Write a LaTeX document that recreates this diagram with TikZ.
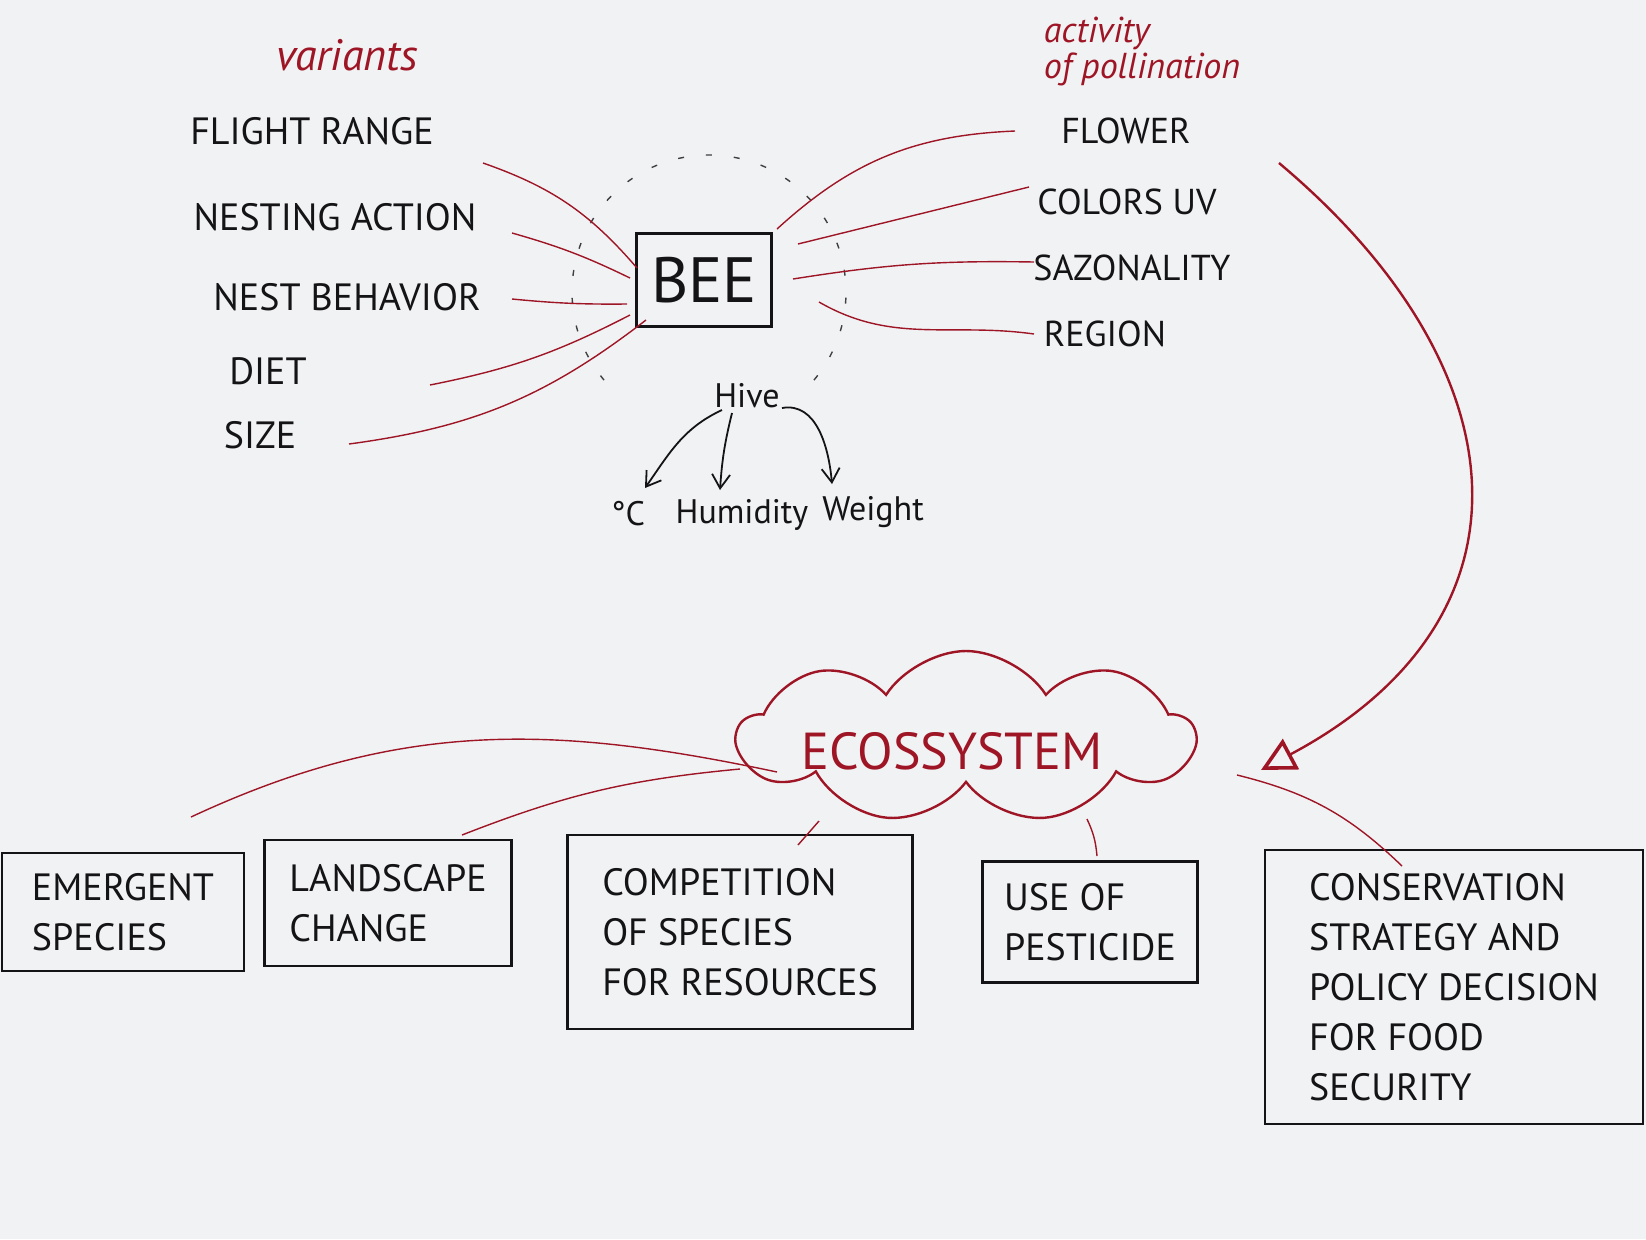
\documentclass[tikz,border=0pt]{standalone}
\usepackage{fontspec}
\setmainfont{PT Sans}
\usetikzlibrary{shapes.symbols,arrows.meta,calc}
\definecolor{penred}{RGB}{158,22,38}
\definecolor{ink}{RGB}{20,20,22}
\definecolor{paper}{RGB}{241,242,244}
\begin{document}
\begin{tikzpicture}[x=0.5pt,y=0.5pt,
  lbl/.style={text=ink, font=\fontsize{19}{22}\selectfont, inner sep=1pt},
  rlbl/.style={text=ink, font=\fontsize{18}{21}\selectfont, inner sep=1pt},
  note/.style={text=penred, font=\itshape\fontsize{22}{22}\selectfont, inner sep=1pt},
  hivetxt/.style={text=ink, font=\fontsize{17}{19}\selectfont, inner sep=1pt},
  bx/.style={draw=ink, line width=1.1pt, text=ink, align=left, font=\fontsize{19}{25}\selectfont},
  redlink/.style={draw=penred, line width=0.7pt},
  hivearrow/.style={draw=ink, line width=0.9pt, -{Straight Barb[length=7pt,width=9pt]}},
  halo/.style={draw=gray!50!black, line width=0.7pt, dash pattern=on 3pt off 11pt},
]
\useasboundingbox (0,0) rectangle (1646,-1239);
\fill[paper] (0,0) rectangle (1646,-1239);

% ---- left: variants ----
\node[note] (var) at (347,-55) {variants};
\node[lbl] (fr)   at (312,-131) {FLIGHT RANGE};
\node[lbl] (na)   at (335,-217) {NESTING ACTION};
\node[lbl] (nb)   at (347,-297) {NEST BEHAVIOR};
\node[lbl] (diet) at (268,-371) {DIET};
\node[lbl] (size) at (260,-435) {SIZE};

% ---- bee ----
\node[draw=ink, line width=1.2pt, minimum width=67.5pt, minimum height=46.5pt, text=ink,
      font=\fontsize{32}{34}\selectfont] (bee) at (704,-280) {BEE};
\draw[halo] (709,-292) ++(-40:68.5pt) arc[start angle=-40, end angle=220, radius=68.5pt];

% ---- right: activity of pollination ----
\node[note, align=left, font=\itshape\fontsize{18}{18}\selectfont] (act) at (1142,-51) {activity\\of pollination};
\node[rlbl] (flower) at (1126,-131) {FLOWER};
\node[rlbl] (colors) at (1127,-202) {COLORS UV};
\node[rlbl] (sazon)  at (1132,-268) {SAZONALITY};
\node[rlbl] (region) at (1105,-334) {REGION};

% ---- hive ----
\node[hivetxt] (hive) at (747,-396) {Hive};
\node[hivetxt] (degc) at (628,-514) {°C};
\node[hivetxt] (hum)  at (742,-515) {Humidity};
\node[hivetxt] (wt)   at (873,-512) {Weight};

% ---- ecosystem cloud ----
\node[cloud, draw=penred, line width=1.2pt, cloud puffs=9, cloud puff arc=115, aspect=2.8,
      minimum width=228pt, minimum height=86pt, inner sep=0pt] (eco) at (966,-737) {};
\node[text=penred, font=\fontsize{26}{28}\selectfont, inner sep=1pt] (ecotxt) at (952,-751) {ECOSSYSTEM};

% ---- bottom boxes ----
\node[bx, minimum width=121pt, minimum height=59pt] (em) at (123,-912) {EMERGENT\\SPECIES};
\node[bx, minimum width=123.5pt, minimum height=63pt] (land) at (388,-903) {LANDSCAPE\\CHANGE};
\node[bx, minimum width=172.5pt, minimum height=97pt] (comp) at (740,-932) {COMPETITION\\OF SPECIES\\FOR RESOURCES};
\node[bx, minimum width=107.5pt, minimum height=60.5pt] (pest) at (1090,-922) {USE OF\\PESTICIDE};
\node[bx, minimum width=189pt, minimum height=137pt] (cons) at (1454,-987) {CONSERVATION\\STRATEGY AND\\POLICY DECISION\\FOR FOOD\\SECURITY};

% ---- connectors: variants -> bee ----
\draw[redlink] ($(fr.center)+(171,-32)$)   to[bend left=15] ($(bee.center)+(-67,12)$);
\draw[redlink] ($(na.center)+(177,-16)$)   to[bend left=5]  ($(bee.center)+(-74,2)$);
\draw[redlink] ($(nb.center)+(165,-2)$)    to[bend right=3] ($(bee.center)+(-77,-24)$);
\draw[redlink] ($(diet.center)+(162,-14)$) to[bend right=8] ($(bee.center)+(-74,-35)$);
\draw[redlink] ($(size.center)+(89,-9)$)   to[bend right=15] ($(bee.center)+(-58,-40)$);

% ---- connectors: bee -> pollination ----
\draw[redlink] ($(bee.center)+(73,51)$)  to[bend left=20] ($(flower.center)+(-111,0)$);
\draw[redlink] ($(bee.center)+(94,36)$)  -- ($(colors.center)+(-98,15)$);
\draw[redlink] ($(bee.center)+(89,1)$)   to[bend left=5] ($(sazon.center)+(-98,6)$);
\draw[redlink] ($(bee.center)+(115,-22)$) to[out=-30,in=172] ($(region.center)+(-71,0)$);

% ---- hive arrows ----
\draw[hivearrow] ($(hive.center)+(-25,-14)$) to[out=205,in=55] ($(degc.center)+(17,26)$);
\draw[hivearrow] ($(hive.center)+(-15,-17)$) to[bend right=5] ($(hum.center)+(-22,25)$);
\draw[hivearrow] ($(hive.center)+(35,-12)$)  to[out=10,in=95] ($(wt.center)+(-41,28)$);

% ---- big arrow: pollination -> ecosystem ----
\draw[penred, line width=1.2pt, -{Triangle[open, length=17pt, width=17pt, line width=1.8pt]}]
  ($(flower.center)+(153,-32)$) to[out=-40,in=28,looseness=1.35] ($(eco.center)+(295,-33)$);

% ---- ecosystem -> boxes ----
\draw[redlink] ($(em.center)+(68,95)$)   to[out=25,in=168] ($(eco.center)+(-189,-35)$);
\draw[redlink] ($(land.center)+(74,68)$) to[bend left=8]   ($(eco.center)+(-226,-32)$);
\draw[redlink] ($(comp.center)+(58,87)$) -- ($(eco.center)+(-147,-84)$);
\draw[redlink] ($(eco.center)+(121,-82)$) to[bend left=10] ($(pest.center)+(7,66)$);
\draw[redlink] ($(eco.center)+(271,-38)$) to[bend left=15] ($(cons.center)+(-52,121)$);
\end{tikzpicture}
\end{document}
